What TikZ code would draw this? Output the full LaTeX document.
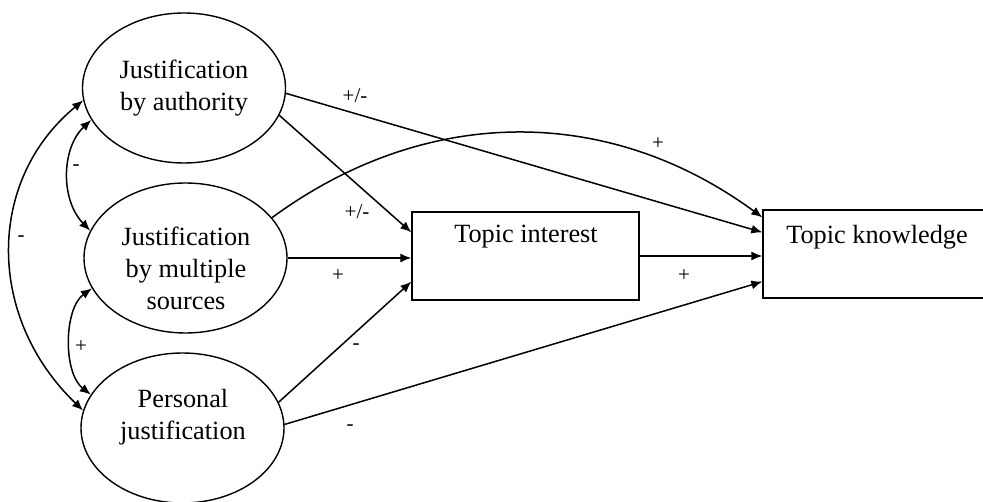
\documentclass[tikz,border=0pt]{standalone}
\usepackage{fontspec}
\setmainfont{Liberation Serif}
\usetikzlibrary{shapes.geometric,arrows.meta,calc}
\begin{document}
\begin{tikzpicture}[x=1pt,y=-1pt,
  lv/.style={ellipse,draw,line width=1.4pt,minimum width=203pt,minimum height=150pt,inner sep=0pt},
  bx/.style={rectangle,draw,line width=1.3pt,minimum width=227pt,minimum height=88pt,inner sep=0pt},
  txt/.style={align=center,font=\fontsize{26.3}{32}\selectfont,inner sep=0pt},
  lab/.style={font=\fontsize{21}{24}\selectfont,inner sep=0pt},
  arr/.style={-{Latex[length=11pt,width=9pt]},line width=1.5pt},
  darr/.style={{Latex[length=11pt,width=9pt]}-{Latex[length=11pt,width=9pt]},line width=1.5pt}]
\useasboundingbox (0,0) rectangle (983,502);
% latent variables
\node[lv] (e1) at (184,88) {};
\node[lv] (e2) at (185.5,258) {};
\node[lv] (e3) at (182.5,428) {};
\node[txt] (t1) at (184,88) {Justification\\by authority};
\node[txt] (t2) at (186,268) {Justification\\by multiple\\sources};
\node[txt] (t3) at (183,417) {Personal\\justification};
% boxes
\node[bx] (ti) at (525.5,256) {};
\node[bx,minimum width=228pt] (tk) at (877,254) {};
\node[txt] (tti) at (526,237) {Topic interest};
\node[txt] (ttk) at (877,237) {Topic knowledge};
% paths
\draw[arr] (e1.-3) -- ([yshift=-23pt]tk.north west);
\draw[arr] (e1.-16) -- ([yshift=-21pt]ti.north west);
\draw[arr] (e2.east) -- (e2.east -| ti.west);
\draw[arr] (e2.25) .. controls +(154,-113) and +(-154,-113) .. ([yshift=-8pt]tk.north west);
\draw[arr] (e3.15) -- ([yshift=19pt]ti.south west);
\draw[arr] (e3.2) -- ([yshift=17pt]tk.south west);
\draw[arr] (ti.east) -- (ti.east -| tk.west);
% correlations
\draw[darr] (e1.199) .. controls +(-30,28) and +(-30,-31) .. (e2.164);
\draw[darr] (e2.198) .. controls +(-28,20) and +(-28,-22) .. (e3.160);
\draw[darr] (e1.187) .. controls +(-97,80) and +(-97,-93) .. (e3.170);
% labels
\node[lab] (l1) at (355,96) {+/-};
\node[lab] (l2) at (357,212) {+/-};
\node[lab] (l3) at (338,276) {+};
\node[lab] (l4) at (356,347) {-};
\node[lab] (l5) at (350,428) {-};
\node[lab] (l6) at (684,276) {+};
\node[lab] (l7) at (658,144) {+};
\node[lab] (l8) at (76,168) {-};
\node[lab] (l9) at (81,347) {+};
\node[lab] (l10) at (21,239) {-};
\end{tikzpicture}
\end{document}
